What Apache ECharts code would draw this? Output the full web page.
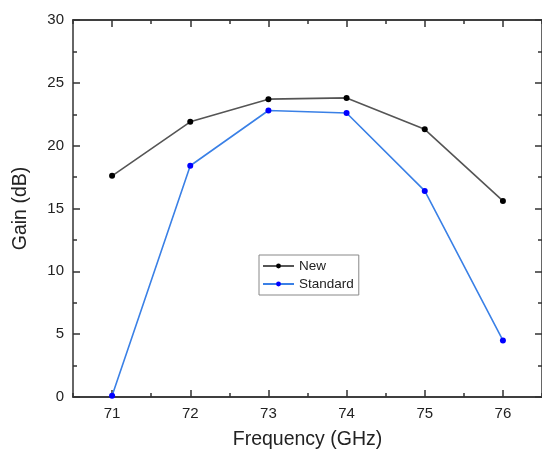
<!DOCTYPE html>
<html>
<head>
<meta charset="utf-8">
<script src="https://cdn.jsdelivr.net/npm/echarts@6/dist/echarts.min.js"></script>
<style>
  html, body { margin: 0; padding: 0; background: #fff; }
  #chart { width: 542px; height: 455px; }
</style>
</head>
<body>
<div id="chart"></div>
<script>
// Frequency points (GHz)
const frequencies = ['71', '72', '73', '74', '75', '76'];
// Gain (dB) for each design
const gainNew = [17.6, 21.9, 23.7, 23.8, 21.3, 15.6];
const gainStandard = [0.1, 18.4, 22.8, 22.6, 16.4, 4.5];
// Y axis range
const yMin = 0;
const yMax = 30;
const yStep = 5;

const font = 'Liberation Sans, Arial, sans-serif';
const axisColor = '#333';

// Shared frame style for the category x axes (major ticks at centres, minor at boundaries)
function xAxisDef(position, major, withLabels) {
  return {
    type: 'category',
    position: position,
    data: frequencies,
    boundaryGap: true,
    axisLine: { show: true, onZero: false, lineStyle: { color: axisColor, width: 1.5 } },
    axisTick: {
      show: true,
      inside: true,
      alignWithLabel: major,
      length: major ? 7 : 4,
      lineStyle: { color: axisColor, width: 1.5 }
    },
    axisLabel: {
      show: withLabels,
      color: '#222',
      fontFamily: font,
      fontSize: 15,
      margin: 9
    },
    name: withLabels ? 'Frequency (GHz)' : '',
    nameLocation: 'middle',
    nameGap: 33,
    nameTextStyle: { color: '#222', fontFamily: font, fontSize: 19.5 },
    splitLine: { show: false }
  };
}

function yAxisDef(position, withLabels) {
  return {
    type: 'value',
    position: position,
    min: yMin,
    max: yMax,
    interval: yStep,
    axisLine: { show: true, onZero: false, lineStyle: { color: axisColor, width: 1.5 } },
    axisTick: { show: true, inside: true, length: 7, lineStyle: { color: axisColor, width: 1.5 } },
    minorTick: { show: true, splitNumber: 2, length: 4, lineStyle: { color: axisColor, width: 1.5 } },
    axisLabel: {
      show: withLabels,
      color: '#222',
      fontFamily: font,
      fontSize: 15,
      margin: 9
    },
    name: withLabels ? 'Gain (dB)' : '',
    nameLocation: 'middle',
    nameGap: 42,
    nameTextStyle: { color: '#222', fontFamily: font, fontSize: 19.5 },
    splitLine: { show: false }
  };
}

const chart = echarts.init(document.getElementById('chart'), null, { renderer: 'canvas' });

chart.setOption({
  backgroundColor: '#ffffff',
  animation: false,
  grid: { left: 73, top: 20, width: 470, height: 380, containLabel: false },
  xAxis: [
    xAxisDef('bottom', true, true),
    xAxisDef('bottom', false, false),
    xAxisDef('top', true, false),
    xAxisDef('top', false, false)
  ],
  yAxis: [
    yAxisDef('left', true),
    yAxisDef('right', false)
  ],
  legend: {
    orient: 'vertical',
    left: 259,
    top: 255,
    padding: [3, 5, 3, 3],
    itemWidth: 31,
    itemHeight: 6,
    itemGap: 2,
    borderColor: '#888',
    borderWidth: 1,
    textStyle: { color: '#222', fontFamily: font, fontSize: 13.5, lineHeight: 16 },
    data: ['New', 'Standard']
  },
  series: [
    {
      name: 'New',
      type: 'line',
      xAxisIndex: 0,
      yAxisIndex: 0,
      data: gainNew,
      symbol: 'circle',
      symbolSize: 6,
      lineStyle: { color: '#555555', width: 1.6 },
      itemStyle: { color: '#000000' }
    },
    {
      name: 'Standard',
      type: 'line',
      xAxisIndex: 0,
      yAxisIndex: 0,
      data: gainStandard,
      symbol: 'circle',
      symbolSize: 6,
      lineStyle: { color: '#3a80e6', width: 1.6 },
      itemStyle: { color: '#0000ff' }
    }
  ]
});
</script>
</body>
</html>
